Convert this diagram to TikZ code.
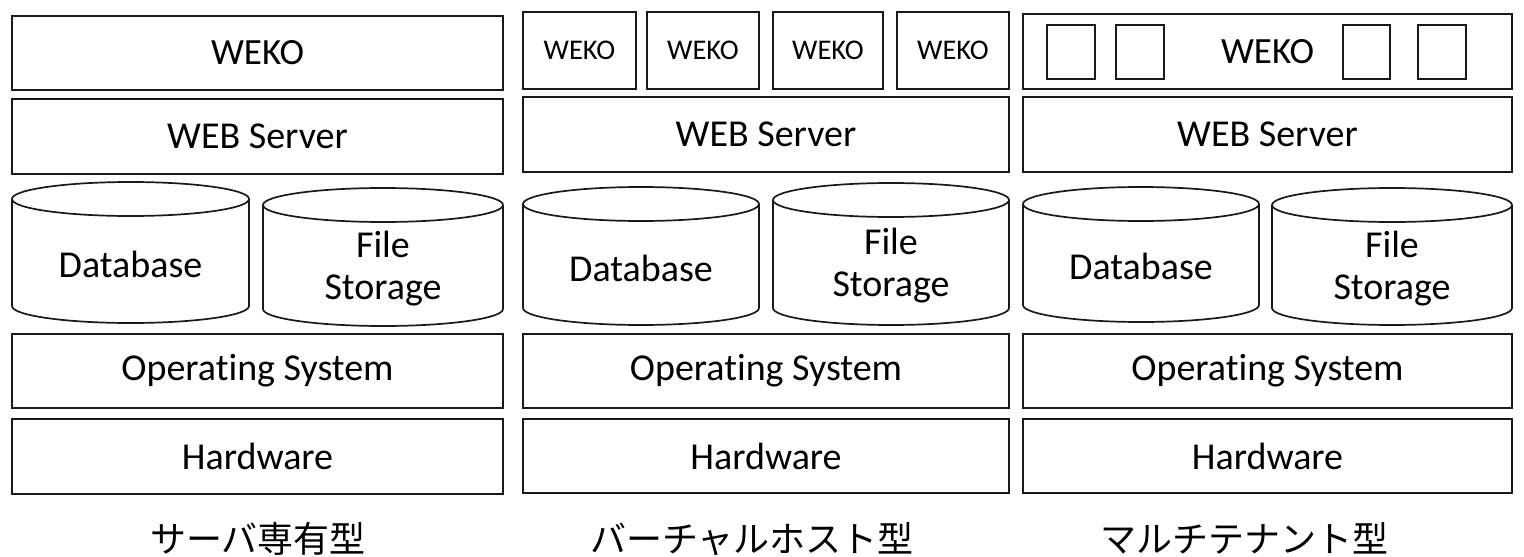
\documentclass[tikz,border=0pt]{standalone}
\usepackage{fontspec}
\setmainfont[Ligatures=NoCommon]{Carlito}
\newfontfamily\cjk{Noto Sans CJK JP}
\tikzset{
  x=1pt, y=1pt,
  strokes/.style={draw=black!90, line width=1.7pt},
  layerbox/.style={strokes, rectangle, inner sep=0pt, outer sep=0pt, font=\fontsize{38}{44}\selectfont},
  wekobox/.style={layerbox, font=\fontsize{37}{43}\selectfont},
  smallbox/.style={layerbox, font=\fontsize{28.5}{33}\selectfont},
  cyltext/.style={inner sep=0pt, align=center, font=\fontsize{38}{42}\selectfont},
  caption/.style={inner sep=0pt, anchor=base, font=\cjk\fontsize{36}{40}\selectfont},
}
% box: name, x1, y1, x2, y2 (pixels, y downwards), text, style
\newcommand\lbox[7][layerbox]{%
  \pgfmathsetmacro\bcx{(#3+#5)/2}\pgfmathsetmacro\bcy{-(#4+#6)/2}%
  \pgfmathsetmacro\bw{#5-#3}\pgfmathsetmacro\bh{#6-#4}%
  \node[#1, minimum width=\bw pt, minimum height=\bh pt] (#2) at (\bcx,\bcy) {#7};}
% cylinder: name, L, T, R, B, text
\newcommand\cyl[6]{%
  \pgfmathsetmacro\crx{(#4-#2)/2}\pgfmathsetmacro\ccx{(#2+#4)/2}%
  \pgfmathsetmacro\ctop{-(#3+17)}\pgfmathsetmacro\cbot{-(#5-17)}%
  \pgfmathsetmacro\ctxt{-((#3+#5)/2+12)}%
  \draw[strokes, line join=round] (#2,\ctop) -- (#2,\cbot) arc[start angle=180, end angle=360, x radius=\crx, y radius=17] -- (#4,\ctop);
  \draw[strokes] (\ccx,\ctop) ellipse[x radius=\crx, y radius=17];
  \node[cyltext] (#1) at (\ccx,\ctxt) {#6};}
\begin{document}
\begin{tikzpicture}
\useasboundingbox (0,0) rectangle (1524,-557);
% ---------- column 1 ----------
\lbox[wekobox]{wekoA}{12}{16}{503}{90}{WEKO}
\lbox{webA}{12}{99}{503}{174}{WEB Server}
\cyl{dbA}{12}{182}{249}{323}{Database}
\cyl{fsA}{263}{188}{503}{326}{File\\Storage}
\lbox{osA}{12}{334}{503}{408}{Operating System}
\lbox{hwA}{12}{419}{503}{494}{Hardware}
\node[caption] (capA) at (258,-552) {サーバ専有型};
% ---------- column 2 ----------
\lbox[smallbox]{wekoB1}{523}{12}{636}{89}{WEKO}
\lbox[smallbox]{wekoB2}{647}{12}{759}{89}{WEKO}
\lbox[smallbox]{wekoB3}{773}{12}{883}{89}{WEKO}
\lbox[smallbox]{wekoB4}{897}{12}{1009}{89}{WEKO}
\lbox{webB}{523}{97}{1009}{172}{WEB Server}
\cyl{dbB}{523}{187}{759}{325}{Database}
\cyl{fsB}{773}{183}{1009}{325}{File\\Storage}
\lbox{osB}{523}{334}{1009}{408}{Operating System}
\lbox{hwB}{523}{419}{1009}{493}{Hardware}
\node[caption] (capB) at (752,-552) {バーチャルホスト型};
% ---------- column 3 ----------
\lbox[wekobox]{wekoC}{1023}{14}{1512}{89}{WEKO}
\lbox{sqC1}{1047}{25}{1095}{79}{}
\lbox{sqC2}{1116}{25}{1164}{79}{}
\lbox{sqC3}{1343}{25}{1390}{79}{}
\lbox{sqC4}{1418}{25}{1466}{79}{}
\lbox{webC}{1023}{97}{1512}{172}{WEB Server}
\cyl{dbC}{1023}{187}{1259}{322}{Database}
\cyl{fsC}{1272}{188}{1512}{325}{File\\Storage}
\lbox{osC}{1023}{334}{1512}{408}{Operating System}
\lbox{hwC}{1023}{419}{1512}{493}{Hardware}
\node[caption] (capC) at (1244,-552) {マルチテナント型};
\end{tikzpicture}
\end{document}
